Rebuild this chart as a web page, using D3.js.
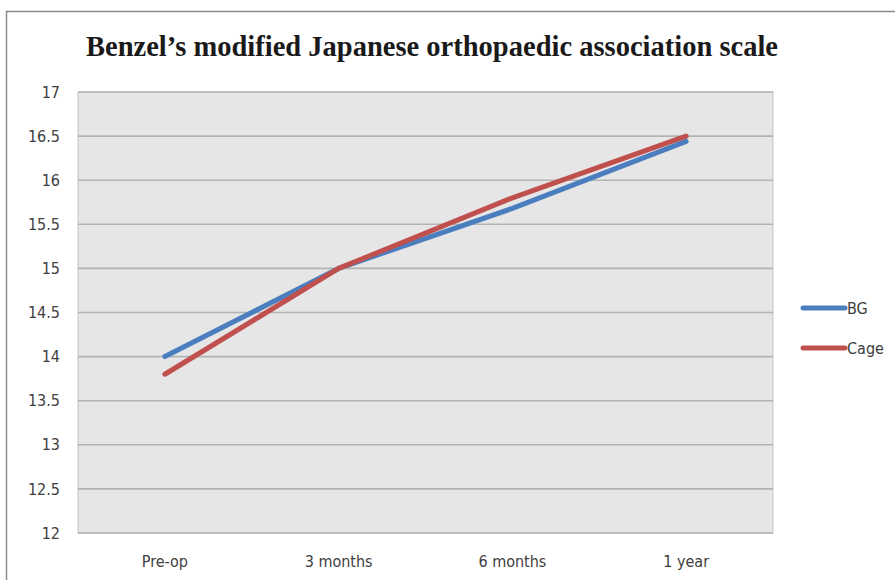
<!DOCTYPE html>
<html>
<head>
<meta charset="utf-8">
<script src="https://cdn.jsdelivr.net/npm/d3@7"></script>
<style>
  html, body { margin: 0; padding: 0; background: #fff; }
  svg { display: block; }
</style>
</head>
<body>
<svg id="chart" width="895" height="580"></svg>
<script>
// Benzel's mJOA score over follow-up, two groups
const categories = ["Pre-op", "3 months", "6 months", "1 year"];
const bgValues   = [14.0, 15.0, 15.68, 16.44];
const cageValues = [13.8, 15.0, 15.80, 16.50];
const yTicks     = [12, 12.5, 13, 13.5, 14, 14.5, 15, 15.5, 16, 16.5, 17];
const seriesNames = ["BG", "Cage"];
const seriesColors = ["#4a7ebf", "#c0504d"];

const series = [
  { name: seriesNames[0], values: bgValues,   color: seriesColors[0] },
  { name: seriesNames[1], values: cageValues, color: seriesColors[1] }
];

const svg = d3.select("#chart");
const labelFont = "'Liberation Sans Narrow', 'DejaVu Sans Condensed', 'Open Sans', sans-serif";

// outer chart frame
svg.append("rect")
  .attr("x", 6.5).attr("y", 11.5)
  .attr("width", 900).attr("height", 600)
  .attr("fill", "#fff").attr("stroke", "#8c8c8c").attr("stroke-width", 1.5);

const plot = { left: 78, top: 92, right: 773, bottom: 533 };

const x = d3.scaleBand().domain(categories).range([plot.left, plot.right]);
const y = d3.scaleLinear().domain([12, 17]).range([plot.bottom, plot.top]);

// plot background
svg.append("rect")
  .attr("x", plot.left).attr("y", plot.top)
  .attr("width", plot.right - plot.left).attr("height", plot.bottom - plot.top)
  .attr("fill", "#e6e6e6").attr("stroke", "#c4c4c4").attr("stroke-width", 1);

// gridlines
svg.append("g")
  .selectAll("line")
  .data(yTicks)
  .join("line")
  .attr("x1", plot.left).attr("x2", plot.right)
  .attr("y1", d => y(d)).attr("y2", d => y(d))
  .attr("stroke", "#b3b3b3").attr("stroke-width", 1.6);

// y axis labels
const yAxis = d3.axisLeft(y).tickValues(yTicks).tickSize(0).tickPadding(18)
  .tickFormat(d => String(d));
svg.append("g")
  .attr("transform", `translate(${plot.left},0)`)
  .call(yAxis)
  .call(g => g.select(".domain").remove())
  .selectAll("text")
  .attr("font-family", labelFont)
  .attr("font-size", 16)
  .attr("fill", "#404040");

// x axis labels
const xAxis = d3.axisBottom(x).tickSize(0).tickPadding(23);
svg.append("g")
  .attr("transform", `translate(0,${plot.bottom})`)
  .call(xAxis)
  .call(g => g.select(".domain").remove())
  .selectAll("text")
  .attr("font-family", labelFont)
  .attr("font-size", 16)
  .attr("fill", "#404040");

// series lines
const line = d3.line()
  .x((d, i) => x(categories[i]) + x.bandwidth() / 2)
  .y(d => y(d));

svg.append("g")
  .selectAll("path")
  .data(series)
  .join("path")
  .attr("d", d => line(d.values))
  .attr("fill", "none")
  .attr("stroke", d => d.color)
  .attr("stroke-width", 5)
  .attr("stroke-linecap", "round")
  .attr("stroke-linejoin", "round");

// title
svg.append("text")
  .attr("x", 86).attr("y", 56)
  .attr("font-family", "'Liberation Serif', 'Times New Roman', serif")
  .attr("font-weight", "bold")
  .attr("font-size", 30)
  .attr("fill", "#1a1a1a")
  .attr("textLength", 692)
  .attr("lengthAdjust", "spacingAndGlyphs")
  .text("Benzel\u2019s modified Japanese orthopaedic association scale");

// legend
const legend = svg.append("g")
  .selectAll("g")
  .data(series)
  .join("g")
  .attr("transform", (d, i) => `translate(803,${308 + i * 40})`);

legend.append("line")
  .attr("x1", 0).attr("x2", 42)
  .attr("y1", 0).attr("y2", 0)
  .attr("stroke", d => d.color)
  .attr("stroke-width", 5)
  .attr("stroke-linecap", "round");

legend.append("text")
  .attr("x", 44).attr("y", 0)
  .attr("dy", "0.35em")
  .attr("font-family", labelFont)
  .attr("font-size", 16)
  .attr("fill", "#404040")
  .text(d => d.name);
</script>
</body>
</html>
